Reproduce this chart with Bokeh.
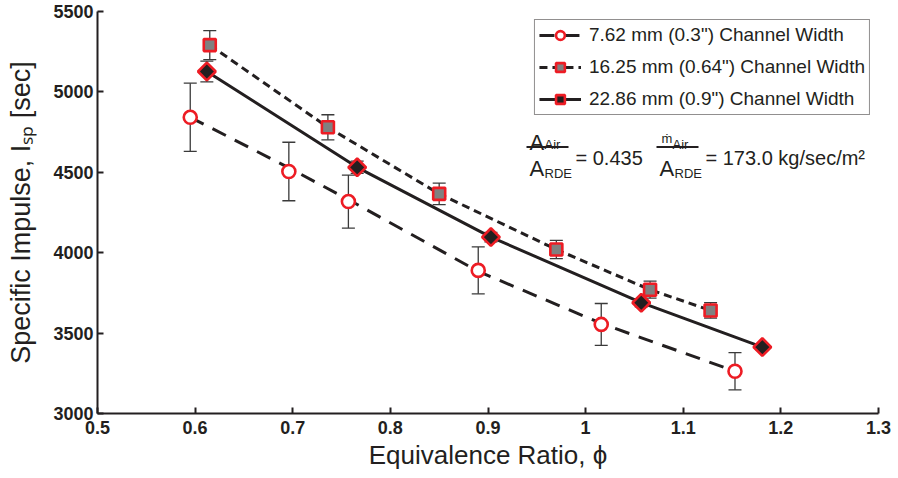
import numpy as np
from bokeh.plotting import figure
from bokeh.models import (ColumnDataSource, Whisker, TeeHead, Legend, LegendItem,
                          Label, FixedTicker)
from bokeh.embed import file_html
from bokeh.resources import INLINE

# ---------------- data ----------------
series_names = ['7.62 mm (0.3") Channel Width',
                '16.25 mm (0.64") Channel Width',
                '22.86 mm (0.9") Channel Width']

phi_762 = [0.595, 0.696, 0.757, 0.890, 1.016, 1.153]
isp_762 = [4842, 4505, 4318, 3890, 3554, 3263]
err_762 = [212, 182, 165, 146, 130, 116]
trend_762 = [4842, 4528, 4330, 3884, 3560, 3263]

phi_1625 = [0.615, 0.736, 0.850, 0.970, 1.066, 1.128]
isp_1625 = [5291, 4780, 4366, 4020, 3770, 3641]
err_1625 = [90, 78, 67, 57, 53, 48]
trend_1625 = [5291, 4780, 4366, 4020, 3770, 3641]

phi_2286 = [0.612, 0.766, 0.903, 1.057, 1.181]
isp_2286 = [5127, 4531, 4097, 3689, 3413]
err_2286 = [65, 38, 30, 25, 20]
trend_2286 = [5127, 4531, 4097, 3689, 3413]

x_ticks = [0.5, 0.6, 0.7, 0.8, 0.9, 1.0, 1.1, 1.2, 1.3]
x_tick_labels = ["0.5", "0.6", "0.7", "0.8", "0.9", "1", "1.1", "1.2", "1.3"]
y_ticks = [3000, 3500, 4000, 4500, 5000, 5500]

# ---------------- layout constants ----------------
W, H = 898, 478
FL, FR, FT, FB = 97, 878, 11, 413          # frame edges in px
XMIN, XMAX, YMIN, YMAX = 0.5, 1.3, 3000, 5500
FONT = "Liberation Sans"
RED = "#ed1c24"
INK = "#231f20"


def X(px):
    return XMIN + (px - FL) * (XMAX - XMIN) / (FR - FL)


def Y(py):
    return YMAX - (py - FT) * (YMAX - YMIN) / (FB - FT)


p = figure(width=W, height=H, output_backend="svg", toolbar_location=None,
           x_range=(XMIN, XMAX), y_range=(YMIN, YMAX),
           min_border_left=FL, min_border_right=W - FR,
           min_border_top=FT, min_border_bottom=H - FB)
p.outline_line_color = None
p.xgrid.visible = False
p.ygrid.visible = False
p.background_fill_color = "white"
p.border_fill_color = "white"

for ax in (p.xaxis[0], p.yaxis[0]):
    ax.axis_line_width = 2
    ax.axis_line_color = INK
    ax.major_tick_line_width = 2
    ax.major_tick_line_color = INK
    ax.major_tick_in = 6
    ax.major_tick_out = 0
    ax.minor_tick_line_color = None
    ax.major_label_text_font = FONT
    ax.major_label_text_font_size = "18px"
    ax.major_label_text_font_style = "bold"
    ax.major_label_text_color = INK
    ax.axis_label_text_font = FONT
    ax.axis_label_text_font_size = "26px"
    ax.axis_label_text_font_style = "normal"
    ax.axis_label_text_color = INK

p.xaxis[0].ticker = FixedTicker(ticks=x_ticks)
p.xaxis[0].major_label_overrides = {t: l for t, l in zip(x_ticks, x_tick_labels)}
p.xaxis[0].major_label_standoff = 7
p.xaxis[0].axis_label = "Equivalence Ratio, ϕ"
p.xaxis[0].axis_label_standoff = 3

p.yaxis[0].ticker = FixedTicker(ticks=y_ticks)
p.yaxis[0].major_label_standoff = 4
p.yaxis[0].axis_label = "Specific Impulse, Iₛₚ [sec]"
p.yaxis[0].axis_label_text_font_size = "27px"
p.yaxis[0].axis_label_standoff = 14

# ---------------- series ----------------
src1 = ColumnDataSource(dict(x=phi_762, y=isp_762, t=trend_762,
                             lo=np.array(isp_762) - np.array(err_762),
                             hi=np.array(isp_762) + np.array(err_762)))
src2 = ColumnDataSource(dict(x=phi_1625, y=isp_1625, t=trend_1625,
                             lo=np.array(isp_1625) - np.array(err_1625),
                             hi=np.array(isp_1625) + np.array(err_1625)))
src3 = ColumnDataSource(dict(x=phi_2286, y=isp_2286, t=trend_2286,
                             lo=np.array(isp_2286) - np.array(err_2286),
                             hi=np.array(isp_2286) + np.array(err_2286)))

ERR = "#3a3a3a"
for s in (src1, src2, src3):
    w = Whisker(source=s, base="x", lower="lo", upper="hi",
                line_color=ERR, line_width=1.3,
                upper_head=TeeHead(size=13, line_color=ERR, line_width=1.3),
                lower_head=TeeHead(size=13, line_color=ERR, line_width=1.3))
    p.add_layout(w)

l1 = p.line("x", "t", source=src1, line_color=INK, line_width=3, line_dash="15 10")
l2 = p.line("x", "t", source=src2, line_color=INK, line_width=3, line_dash="8 5")
l3 = p.line("x", "t", source=src3, line_color=INK, line_width=3)

m1 = p.scatter("x", "y", source=src1, marker="circle", size=13,
               fill_color="white", line_color=RED, line_width=2.6)
m2 = p.scatter("x", "y", source=src2, marker="square", size=12,
               fill_color="#808080", line_color=RED, line_width=2.6)
m3 = p.scatter("x", "y", source=src3, marker="square", size=12.5, angle=np.pi / 4,
               fill_color=INK, line_color=RED, line_width=2.6)

legend = Legend(items=[LegendItem(label=series_names[0], renderers=[l1, m1]),
                       LegendItem(label=series_names[1], renderers=[l2, m2]),
                       LegendItem(label=series_names[2], renderers=[l3, m3])],
                location="top_right", margin=8, padding=4, spacing=10,
                glyph_width=42, glyph_height=22, label_height=22,
                label_standoff=8,
                label_text_font=FONT, label_text_font_size="19px",
                label_text_color=INK,
                border_line_color=INK, border_line_width=1.5,
                background_fill_color="white", background_fill_alpha=1.0)
p.add_layout(legend)


# ---------------- area-ratio annotation ----------------
def lab(px, py, text, size):
    p.add_layout(Label(x=X(px), y=Y(py), text=text, text_font=FONT,
                       text_font_size=size, text_color=INK,
                       text_align="left", text_baseline="alphabetic"))


lab(529, 142, "A", "22px")
lab(544, 144, "Air", "13px")
lab(529, 168, "A", "22px")
lab(544, 173, "RDE", "13px")
lab(575, 157, "= 0.435", "20px")
lab(661, 138, "ṁ", "13px")
lab(672, 144, "Air", "13px")
lab(659, 168, "A", "22px")
lab(674, 173, "RDE", "13px")
lab(705, 157, "= 173.0 kg/sec/m²", "20px")

bars = ColumnDataSource(dict(x0=[X(526), X(656)], x1=[X(568), X(698)],
                             y0=[Y(146.5), Y(146.5)], y1=[Y(146.5), Y(146.5)]))
p.segment("x0", "y0", "x1", "y1", source=bars, line_color=INK, line_width=2)

open("out.html", "w").write(file_html(p, INLINE))
